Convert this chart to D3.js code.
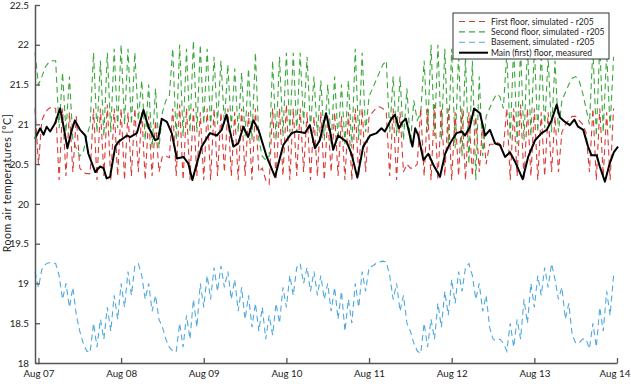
<!DOCTYPE html>
<html>
<head>
<meta charset="utf-8">
<script src="https://cdn.jsdelivr.net/npm/d3@7"></script>
<style>
body { margin: 0; background: #fff; }
text { font-family: Lato, "Open Sans", sans-serif; fill: #222; }
</style>
</head>
<body>
<div id="chart"></div>
<script>
// legend entries
var seriesNames = ["First floor, simulated - r205", "Second floor, simulated - r205",
                   "Basement, simulated - r205", "Main (first) floor, measured"];
var seriesColors = ["#d93a35", "#3aa83a", "#4fa9df", "#000000"];

var yTicks = [18, 18.5, 19, 19.5, 20, 20.5, 21, 21.5, 22, 22.5];
var xTickLabels = ["Aug 07", "Aug 08", "Aug 09", "Aug 10", "Aug 11", "Aug 12", "Aug 13", "Aug 14"];

// simulated series, hourly, first value at Aug 06 23:00
var firstFloor = [21.2,20.5,21.05,21.15,21.2,21.22,21.2,20.3,21.2,20.35,21.15,20.4,21.1,20.45,20.4,20.38,20.38,
  21.2,20.3,21.2,20.35,21.25,20.3,21.2,20.35,21.2,20.3,21.15,20.35,21.2,20.4,21.15,20.3,21.1,20.35,21.05,20.4,
  20.6,20.6,20.58,21.2,20.35,21.25,20.3,21.2,20.3,21.2,20.35,21.15,20.3,21.2,20.3,21.2,20.35,21.15,20.4,21.2,
  20.35,21.15,20.3,21.2,20.35,21.15,20.3,21.2,20.4,20.45,20.3,20.25,21.2,20.3,21.2,20.35,21.25,20.3,21.2,20.35,
  21.2,20.4,21.15,20.3,21.1,20.35,21.15,20.3,21.1,20.4,21.15,20.35,21.1,20.3,21.15,20.3,21.2,20.35,21.2,20.4,
  21.1,21.15,21.2,21.22,21.2,21.15,20.35,21.2,20.3,21.15,20.4,20.5,20.45,20.45,20.5,21.2,20.35,21.2,20.3,21.25,
  20.3,21.2,20.35,21.2,20.3,21.15,20.35,21.2,20.3,21.15,20.35,21.1,20.4,21.0,20.5,20.75,20.75,20.78,20.75,20.7,
  21.2,20.3,21.2,20.35,21.25,20.3,21.2,20.35,21.2,20.3,21.15,20.35,21.15,20.4,21.1,20.4,20.9,21.0,21.05,21.1,
  21.1,21.05,21.0,20.9,20.4,21.2,20.3,21.2,20.35,21.15,20.3,21.2];

var secondFloor = [21.9,21.5,21.6,21.72,21.78,21.8,21.8,20.95,21.65,20.9,21.6,20.8,20.7,20.6,20.65,20.85,21.0,
  21.9,20.9,21.8,20.85,21.9,20.9,21.95,20.95,22.0,21.0,21.95,21.0,21.9,21.05,21.55,20.8,21.5,20.7,21.45,20.7,
  21.15,21.3,21.35,21.95,20.8,22.0,20.85,21.95,20.9,22.05,20.9,22.0,21.0,21.95,20.95,21.85,21.0,21.8,21.0,21.75,
  20.95,21.7,20.9,21.65,20.85,21.7,20.8,21.9,20.8,20.6,20.55,20.6,21.8,20.8,21.85,20.85,21.9,20.9,21.9,20.9,
  21.9,21.0,21.85,20.95,21.6,20.85,21.55,20.8,21.5,20.75,21.6,20.8,21.5,20.75,21.55,20.7,21.95,20.8,21.9,20.9,
  21.35,21.45,21.55,21.65,21.75,21.8,20.9,21.6,20.85,21.6,20.8,21.45,20.75,21.3,21.05,21.15,21.8,20.9,22.0,20.85,
  22.0,20.8,21.95,20.75,21.95,20.7,21.9,20.6,21.85,20.5,21.8,20.3,21.6,20.6,21.1,21.2,21.3,21.38,21.35,21.2,
  21.9,20.8,22.0,20.75,21.95,20.8,22.0,20.85,21.95,20.9,21.9,20.95,21.85,20.9,21.8,20.9,21.3,21.4,21.5,21.58,
  21.6,21.55,21.4,21.2,21.0,21.95,20.85,22.0,20.9,21.9,20.95,21.85];

var basement = [19.15,18.95,19.18,19.24,19.26,19.26,19.25,19.1,18.8,19.0,18.7,18.95,18.6,18.4,18.25,18.15,18.13,
  18.5,18.2,18.55,18.3,18.7,18.4,18.85,18.55,19.0,18.7,19.15,18.85,19.22,19.25,19.1,18.8,19.0,18.65,18.85,18.55,
  18.45,18.3,18.2,18.15,18.14,18.5,18.2,18.6,18.3,18.8,18.45,19.0,18.7,19.1,18.8,19.2,18.9,19.22,18.95,19.15,
  18.8,19.05,18.65,18.95,18.55,18.85,18.45,18.75,18.4,18.7,18.3,18.6,18.35,18.75,18.5,18.95,18.7,19.1,18.85,19.2,
  19.25,19.0,19.2,18.9,19.15,18.85,19.1,18.8,19.0,18.65,18.95,18.55,18.9,18.4,18.8,18.5,19.0,18.7,19.15,18.9,
  19.2,19.22,19.25,19.27,19.28,19.27,19.1,18.8,19.0,18.65,18.85,18.5,18.4,18.25,18.15,18.12,18.5,18.2,18.55,
  18.3,18.75,18.45,18.9,18.6,19.05,18.75,19.15,18.9,19.2,19.25,19.1,18.8,19.0,18.65,18.85,18.45,18.3,18.28,18.3,
  18.25,18.15,18.5,18.2,18.55,18.3,18.8,18.5,19.0,18.7,19.1,18.85,19.2,18.95,19.25,19.05,18.8,18.95,18.55,18.75,
  18.35,18.25,18.25,18.3,18.3,18.18,18.5,18.2,18.7,18.4,18.9,18.6,19.1];

// measured series: hours after Aug 07 00:00 and temperature
var measuredHours = [-1,0.5,1.5,2.4,3.4,4.8,6.3,7.3,8.4,9.7,10.6,12.1,13.6,14.5,16.5,17.9,18.9,19.8,20.8,22.3,23.2,
  25.7,26.6,28.6,30.5,31.9,33.9,34.8,35.8,37.3,38.7,40.2,42.1,43.5,44.7,46,47.4,49.8,51.8,53.2,54.6,56.6,58,59.5,
  60.9,62.4,63.9,66.3,68.7,71.1,73.5,75,77.4,78.8,80.3,81.7,83.5,84.6,85.6,87,89.5,90.9,92.6,94.3,96.3,98.2,99.6,
  100.6,102.5,103.5,104.7,105.7,106.7,108.6,109.4,110.3,111.8,113.2,114.7,116.6,118.1,119.5,121.4,122.9,123.9,
  125.3,126.5,128.2,129.7,131.1,132.6,134,135.5,136.9,138.4,140.6,142.2,144.2,146.1,147.6,149,150.5,151.4,152.9,
  154.3,155.6,156.7,158.2,159.6,160.6,162.1,163,164.5,165.9,167.1,168.3];
var measuredTemp = [20.82,20.95,20.87,20.97,20.91,21.01,21.2,20.97,20.7,20.93,21.05,20.93,20.86,20.63,20.4,20.47,
  20.45,20.32,20.34,20.72,20.78,20.86,20.84,20.89,21.18,20.97,20.8,20.82,21.07,21.03,20.89,20.57,20.59,20.51,20.3,
  20.51,20.72,20.89,20.86,20.93,21.12,20.72,20.76,20.97,20.84,21.05,20.93,20.59,20.34,20.74,20.89,20.91,20.89,20.99,
  20.7,20.8,21.14,20.93,20.68,20.86,20.78,20.63,20.33,20.72,20.86,20.89,20.95,20.91,21.07,21.12,20.95,21.03,21.07,
  20.72,20.95,20.86,20.55,20.63,20.49,20.34,20.63,20.76,20.89,20.91,20.86,20.97,21.2,21.14,20.86,20.93,20.76,20.74,
  20.59,20.65,20.53,20.31,20.59,20.8,20.89,20.93,21.05,21.25,21.09,21.03,20.99,21.06,20.97,20.93,20.72,20.61,20.61,
  20.47,20.28,20.51,20.65,20.72];

var width = 631;
var height = 384;
var hour = 3600 * 1000;
var simStart = Date.UTC(2015, 7, 6, 23);
var day0 = Date.UTC(2015, 7, 7);

var svg = d3.select("#chart").append("svg")
            .attr("width", width)
            .attr("height", height);

var x = d3.scaleUtc()
          .domain([new Date(simStart), new Date(day0 + 7 * 24 * hour)])
          .range([35, 617]);
var y = d3.scaleLinear().domain([18, 22.5]).range([363, 5]);

var simLine = d3.line()
                .x(function(d, i){ return x(new Date(simStart + i * hour)); })
                .y(function(d){ return y(d); });

var simSeries = [
    {values: secondFloor, color: seriesColors[1]},
    {values: firstFloor, color: seriesColors[0]},
    {values: basement, color: seriesColors[2]}
];
simSeries.forEach(function(s){
    svg.append("path")
       .attr("d", simLine(s.values))
       .attr("fill", "none")
       .attr("stroke", s.color)
       .attr("stroke-width", 1.1)
       .attr("stroke-dasharray", "6,4");
});

var measured = measuredHours.map(function(h, i){ return [h, measuredTemp[i]]; });
var measLine = d3.line()
                 .x(function(d){ return x(new Date(day0 + d[0] * hour)); })
                 .y(function(d){ return y(d[1]); });
svg.append("path")
   .attr("d", measLine(measured))
   .attr("fill", "none")
   .attr("stroke", "#000")
   .attr("stroke-width", 2)
   .attr("stroke-linejoin", "round");

// axes
var dayTicks = xTickLabels.map(function(t, i){ return new Date(day0 + i * 24 * hour); });
var xAxis = svg.append("g")
               .attr("transform", "translate(0,363)")
               .call(d3.axisBottom(x).tickValues(dayTicks)
                     .tickFormat(function(d, i){ return xTickLabels[i]; })
                     .tickSizeInner(-5).tickSizeOuter(0).tickPadding(7));
var yAxis = svg.append("g")
               .attr("transform", "translate(35,0)")
               .call(d3.axisLeft(y).tickValues(yTicks)
                     .tickFormat(function(d){ return String(d); })
                     .tickSizeInner(-5).tickSizeOuter(0).tickPadding(6));
[xAxis, yAxis].forEach(function(a){
    a.select(".domain").attr("stroke", "#555").attr("stroke-width", 1.5);
    a.selectAll(".tick line").attr("stroke", "#555").attr("stroke-width", 1.3);
    a.selectAll(".tick text").style("font-size", "9.8px")
     .style("font-family", "Lato, sans-serif").attr("fill", "#222");
});
// last date label sits against the right edge
xAxis.selectAll(".tick text").filter(function(d, i){ return i == xTickLabels.length - 1; })
     .attr("text-anchor", "end").attr("x", 13);

svg.append("text")
   .attr("transform", "translate(11,183) rotate(-90)")
   .attr("text-anchor", "middle")
   .style("font-size", "10.5px")
   .style("letter-spacing", "0.5px")
   .text("Room air temperatures [\u00b0C]");

// legend
var legend = svg.append("g");
legend.append("rect")
      .attr("x", 453).attr("y", 13)
      .attr("width", 156).attr("height", 46)
      .attr("fill", "#fff")
      .attr("stroke", "#333")
      .attr("stroke-width", 1);
seriesNames.forEach(function(name, i){
    var ly = 21.5 + i * 10.4;
    legend.append("line")
          .attr("x1", 459).attr("x2", 488)
          .attr("y1", ly).attr("y2", ly)
          .attr("stroke", seriesColors[i])
          .attr("stroke-width", i == 3 ? 2 : 1.1)
          .attr("stroke-dasharray", i == 3 ? null : "6,4");
    legend.append("text")
          .attr("x", 491).attr("y", ly)
          .attr("dy", "0.35em")
          .style("font-size", "8.6px")
          .text(name);
});
</script>
</body>
</html>
